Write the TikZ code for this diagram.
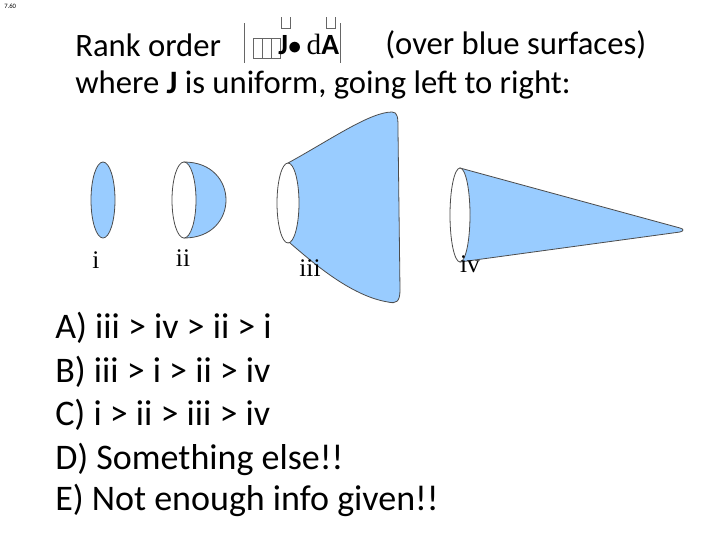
\documentclass[tikz,border=0pt]{standalone}
\usepackage{fontspec}
\setmainfont{Carlito}
\newfontfamily\serifm{Liberation Serif}
\definecolor{sblue}{HTML}{99CCFF}
\begin{document}
\begin{tikzpicture}[x=0.75pt,y=-0.75pt,
  surf/.style={fill=sblue,draw=black!70,line width=0.6pt},
  rim/.style={fill=white,draw=black!70,line width=0.6pt},
  lbl/.style={font=\serifm\fontsize{19}{19}\selectfont,inner sep=0},
  txt/.style={font=\fontsize{24.5}{28}\selectfont,anchor=west,inner sep=0},
  ans/.style={font=\fontsize{27}{30}\selectfont,anchor=west,inner sep=0}]
\useasboundingbox (0,0) rectangle (720,540);
\node[anchor=north west,inner sep=0,font=\fontsize{5}{5}\selectfont] (tag) at (4,4) {7.60};
\node[txt] (t1) at (75,45) {Rank order};
\node[txt] (t1b) at (385,45) {(over blue surfaces)};
\node[txt] (t2) at (75,85) {where \textbf{J} is uniform, going left to right:};
% formula
\draw[black!60] (244,23) -- (244,63) (340,23) -- (340,63);
\foreach \k in {0,1,2} \draw[black!60] (253+\k*9,38) rectangle (262+\k*9,58);
\node[inner sep=0,anchor=west,font=\fontsize{22}{22}\selectfont] (f) at (278,44) {\textbf{J}$\bullet$\,{\serifm d}\textbf{A}};
\draw[black!60] (281,17) -- (281,28) -- (290,28) -- (290,17) (326,17) -- (326,28) -- (335,28) -- (335,17);
% i
\draw[surf] (103,200) ellipse [x radius=12,y radius=38];
% ii
\draw[surf] (184,162) .. controls (240,162) and (240,238) .. (184,238) -- cycle;
\draw[rim] (184,200) ellipse [x radius=12,y radius=38];
% iii
\draw[surf] (288,163) .. controls (330,140) and (370,112) .. (392,112)
  .. controls (398,112) and (398,118) .. (398,130) -- (400,290)
  .. controls (400,302) and (396,304) .. (388,302)
  .. controls (350,296) and (310,260) .. (290,243) -- cycle;
\draw[rim] (288,203) ellipse [x radius=11,y radius=40];
% iv
\draw[surf] (460,168) -- (680,228) .. controls (684,229) and (684,231) .. (680,232) -- (460,262) -- cycle;
\draw[rim] (460,215) ellipse [x radius=10,y radius=47];
\node[lbl] (l1) at (96,260) {i};
\node[lbl] (l2) at (183,258) {ii};
\node[lbl] (l3) at (310,268) {iii};
\node[lbl] (l4) at (470,264) {iv};
\node[ans] (a) at (55,328) {A) iii > iv > ii > i};
\node[ans] (b) at (55,372) {B) iii > i > ii > iv};
\node[ans] (c) at (55,415) {C) i > ii > iii > iv};
\node[ans] (d) at (55,459) {D) Something else!!};
\node[ans] (e) at (55,500) {E) Not enough info given!!};
\end{tikzpicture}
\end{document}
